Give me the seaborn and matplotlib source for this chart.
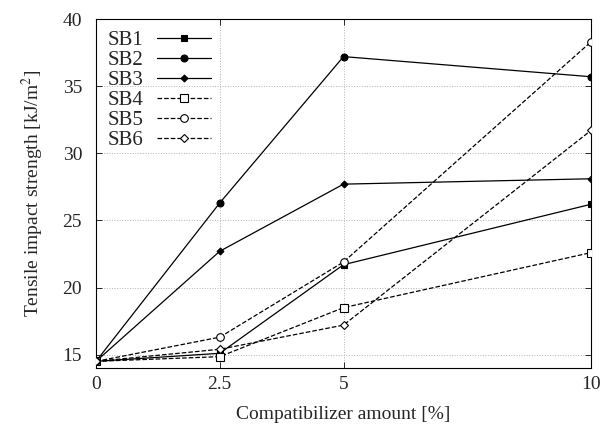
import matplotlib
matplotlib.use("Agg")
import matplotlib.pyplot as plt
import seaborn as sns
import pandas as pd

amount = [0, 2.5, 5, 10]
series_names = ["SB1", "SB2", "SB3", "SB4", "SB5", "SB6"]
SB1 = [14.5, 15.1, 21.7, 26.2]
SB2 = [14.5, 26.3, 37.2, 35.7]
SB3 = [14.5, 22.7, 27.7, 28.1]
SB4 = [14.5, 14.85, 18.5, 22.6]
SB5 = [14.5, 16.3, 21.9, 38.3]
SB6 = [14.5, 15.4, 17.2, 31.7]
values = [SB1, SB2, SB3, SB4, SB5, SB6]

sns.set_style("ticks")
plt.rcParams['font.family'] = ['Liberation Serif', 'DejaVu Serif']
plt.rcParams['mathtext.fontset'] = 'stix'

fig = plt.figure(figsize=(6, 4.32), dpi=100)
ax = fig.add_axes([0.16, 0.148, 0.825, 0.808])

styles = [
    dict(marker="s", ls="-", mfc="black", ms=5),
    dict(marker="o", ls="-", mfc="black", ms=5),
    dict(marker="D", ls="-", mfc="black", ms=3.5),
    dict(marker="s", ls="--", mfc="white", ms=5.5),
    dict(marker="o", ls="--", mfc="white", ms=5.5),
    dict(marker="D", ls="--", mfc="white", ms=4.5),
]

for name, vals, st in zip(series_names, values, styles):
    df = pd.DataFrame({"x": amount, "y": vals})
    sns.lineplot(data=df, x="x", y="y", ax=ax, color="black", lw=0.9,
                 linestyle=st["ls"], marker=st["marker"], markersize=st["ms"],
                 markerfacecolor=st["mfc"], markeredgecolor="black",
                 markeredgewidth=0.8, label=name, zorder=3)

ax.set_xlim(0, 10)
ax.set_ylim(14, 40)
ax.set_xticks(amount)
ax.set_xticklabels(["0", "2.5", "5", "10"])
ax.set_yticks([15, 20, 25, 30, 35, 40])
ax.grid(True, color="0.7", linestyle=":", linewidth=0.7)
ax.tick_params(direction="in", top=True, right=True, length=4, width=0.7,
               labelsize=14)
ax.tick_params(axis="y", pad=10)
ax.tick_params(axis="x", pad=6)
for s in ax.spines.values():
    s.set_linewidth(0.8)
    s.set_color("black")

ax.set_xlabel("Compatibilizer amount [%]", fontsize=14, labelpad=9)
ax.set_ylabel("Tensile impact strength [kJ/m$^2$]", fontsize=14, labelpad=12)

leg = ax.legend(loc="upper left", frameon=False, markerfirst=False,
                fontsize=15, handlelength=2.6, labelspacing=0.02,
                borderaxespad=0.25, handletextpad=0.65, borderpad=0.3)

fig.savefig("out.png", dpi=100)
